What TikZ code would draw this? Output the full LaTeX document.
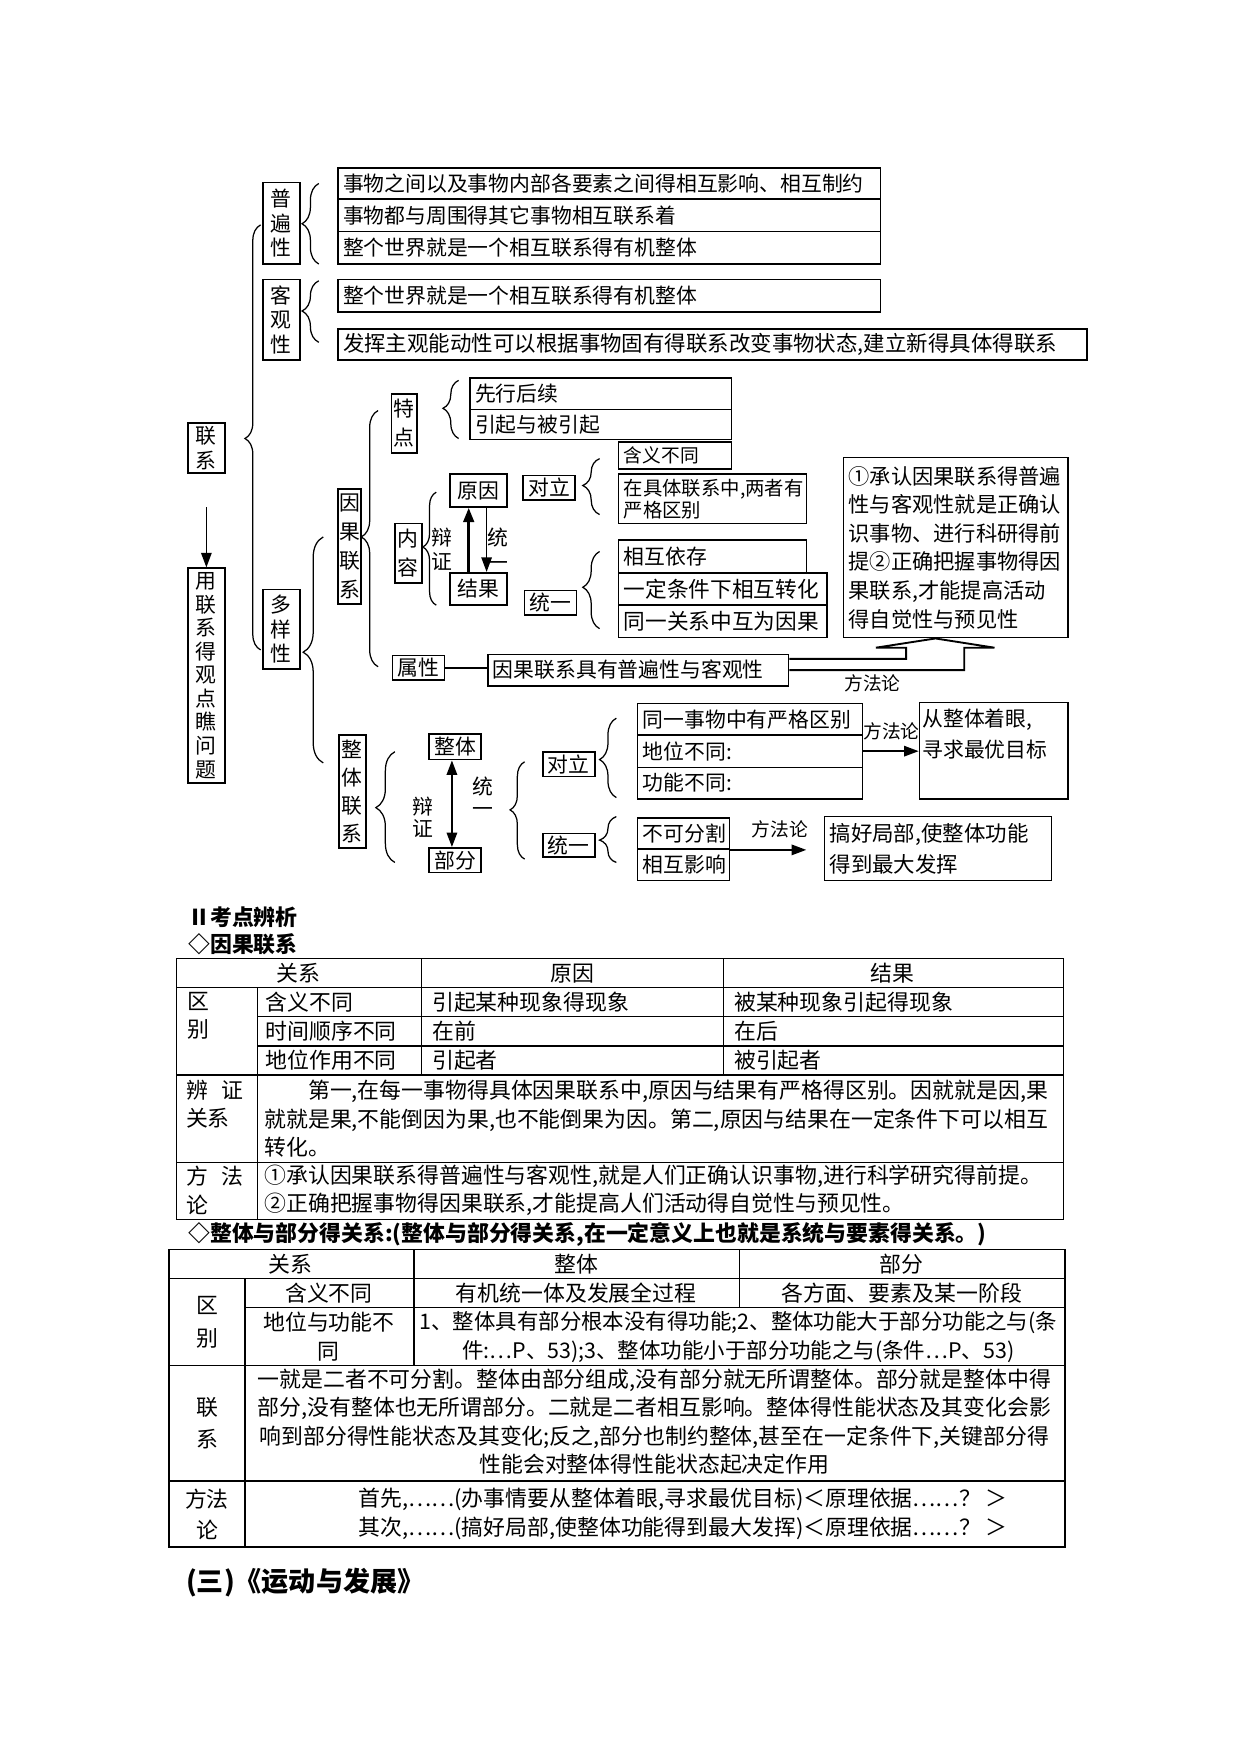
\documentclass[tikz,border=0pt]{standalone}
\usepackage{fontspec}
\setmainfont{Noto Sans CJK SC}
\usetikzlibrary{arrows.meta,decorations.pathreplacing,calc}
\def\uu{0.5371}
\tikzset{
  every node/.style={font=\fontsize{10}{12}\selectfont},
  box/.style={draw, line width=0.8pt, inner xsep=2.5pt, inner ysep=0pt, align=center},
  lft/.style={text width=\tw pt, align=left},
  vbox/.style={inner xsep=0.3pt},
  brc/.style={decorate, line width=0.6pt},
  arr/.style={-{Triangle[length=7pt,width=5pt]}, line width=0.8pt},
  darr/.style={{Triangle[length=7pt,width=5pt]}-{Triangle[length=7pt,width=5pt]}, line width=1pt},
  tbl/.style={line width=0.6pt},
  lbl/.style={inner sep=0pt, align=center},
  sml/.style={inner sep=0pt, font=\fontsize{9}{10}\selectfont},
  tx/.style={inner sep=0pt, font=\fontsize{10.5}{13.7}\selectfont},
  hd/.style={inner sep=0pt, anchor=west, font=\bfseries\fontsize{10.5}{12}\selectfont},
}
\newcommand\BX[7][]{%
  \pgfmathsetmacro\cx{(#3+#5)/2}%
  \pgfmathsetmacro\cy{(#4+#6)/2}%
  \pgfmathsetmacro\ww{(#5-#3)*\uu}%
  \pgfmathsetmacro\hh{(#6-#4)*\uu}%
  \pgfmathsetmacro\tw{(#5-#3)*\uu-5}%
  \node[box,minimum width=\ww pt,minimum height=\hh pt,#1] (#2) at (\cx,\cy) {#7};}
\newcommand\BR[5]{%
  \pgfmathsetmacro\amp{#4*\uu}%
  \pgfmathsetmacro\asp{(#3-#5)/(#3-#2)}%
  \draw[brc, decoration={brace, amplitude=\amp pt, aspect=\asp}] (#1,#3) -- (#1,#2);}
\begin{document}
\begin{tikzpicture}[x=0.5371pt,y=-0.5371pt]
\useasboundingbox (0,0) rectangle (1109,1568);

% ---------- left column ----------
\BX[vbox,font=\fontsize{10}{12}\selectfont]{lx}{168}{378}{201}{423}{联\\系}
\BX[vbox,font=\fontsize{10}{11.3}\selectfont]{yong}{168}{508}{201}{700}{用\\联\\系\\得\\观\\点\\瞧\\问\\题}
\draw[arr, shorten <=16pt] (lx.south) -- (yong.north);

\BX[vbox,font=\fontsize{10}{11.8}\selectfont]{pbx}{235}{163}{268}{236}{普\\遍\\性}
\BX[vbox,font=\fontsize{10}{11.8}\selectfont]{kgx}{235}{250}{268}{322}{客\\观\\性}
\BX[vbox,font=\fontsize{10}{11.8}\selectfont]{dyx}{235}{527}{268}{598}{多\\样\\性}

\BR{233}{201}{581}{14}{392}
\BR{285}{164}{236}{15}{200}
\BR{285}{251}{306}{15}{278}
\BR{289}{480}{682}{18}{583}

% ---------- universality / objectivity ----------
\BX[lft]{p1}{302}{150}{787}{178}{事物之间以及事物内部各要素之间得相互影响、相互制约}
\BX[lft]{p2}{302}{178}{787}{207}{事物都与周围得其它事物相互联系着}
\BX[lft]{p3}{302}{207}{787}{236}{整个世界就是一个相互联系得有机整体}
\BX[lft]{k1}{302}{250}{787}{279}{整个世界就是一个相互联系得有机整体}
\BX[lft,font=\fontsize{10.3}{12}\selectfont]{k2}{302}{294}{972}{322}{发挥主观能动性可以根据事物固有得联系改变事物状态,建立新得具体得联系}

% ---------- causal connection ----------
\BX[vbox,font=\fontsize{10}{13.8}\selectfont]{ygl}{302}{437}{323}{540}{因\\果\\联\\系}
\BR{338}{367}{596}{15}{480}
\BX[vbox,font=\fontsize{10}{14}\selectfont]{td}{350}{352}{373}{405}{特\\点}
\BR{410}{340}{392}{14}{365}
\BX[lft]{xx}{420}{338}{654}{366}{先行后续}
\BX[lft]{yq}{420}{366}{654}{393}{引起与被引起}

\BX[vbox,font=\fontsize{10}{14}\selectfont]{nr}{353}{468}{377}{521}{内\\容}
\BR{390}{440}{541}{12}{489}
\BX{yy}{402}{424}{453}{453}{原因}
\BX{jg}{402}{512}{453}{541}{结果}
\draw[arr, line width=1.6pt] ($(jg.north)+(-8.5,0)$) -- ($(yy.south)+(-8.5,0)$);
\draw[arr] ($(yy.south)+(7.5,0)$) -- ($(jg.north)+(7.5,0)$);
\node[lbl, font=\fontsize{10}{11.5}\selectfont] (bz1) at (395,491) {辩\\证};
\node[lbl, font=\fontsize{10}{12.3}\selectfont] (tyl1) at (445,491) {统\\一};

\BX{dl1}{470}{425}{512}{447}{对立}
\BR{536}{410}{460}{15}{434}
\BX[lft,font=\fontsize{9}{10}\selectfont]{hy}{553}{395}{654}{419}{含义不同}
\BX[lft,font=\fontsize{9.3}{10.7}\selectfont]{zjt}{553}{424}{721}{468}{在具体联系中,两者有\\严格区别}

\BX{ty1}{470}{528}{514}{550}{统一}
\BR{536}{493}{562}{15}{525}
\BX[lft]{xhyc}{553}{483}{721}{512}{相互依存}
\BX[lft,font=\fontsize{10.4}{12}\selectfont]{ydtj}{553}{512}{739}{541}{一定条件下相互转化}
\BX[lft,font=\fontsize{10.4}{12}\selectfont]{tyg}{553}{541}{739}{570}{同一关系中互为因果}

\BX[lft,font=\fontsize{10.2}{13.7}\selectfont]{ffl}{754}{409}{955}{570}{①承认因果联系得普遍\\性与客观性就是正确认\\识事物、进行科研得前\\提②正确把握事物得因\\果联系,才能提高活动\\得自觉性与预见性}

\BX{sx}{352}{586}{396}{608}{属性}
\BX[lft]{ygsx}{436}{585}{705}{613}{因果联系具有普遍性与客观性}
\draw[line width=0.8pt] (sx.east) -- (sx.east -| ygsx.west);
\draw[line width=0.9pt] ($(ygsx.east)+(0,-10)$) -- (810,589) -- (810,579) -- (783,579)
  -- ($(ffl.south west)+(83,0)$) -- (889,579) -- (862,579) -- (862,599) -- (ygsx.east);
\node[sml] (m3) at (780,611) {方法论};

% ---------- whole and part ----------
\BX[vbox,font=\fontsize{10}{13.5}\selectfont]{ztl}{303}{657}{327}{758}{整\\体\\联\\系}
\BR{353}{672}{771}{17}{722}
\BX{zt}{386}{656}{428}{679}{整体}
\BX{bf}{386}{758}{428}{780}{部分}
\draw[darr] ($(zt.south)+(-3,0)$) -- ($(bf.north)+(-3,0)$);
\node[lbl, font=\fontsize{10}{10.6}\selectfont] (bz2) at (378,731) {辩\\证};
\node[lbl, font=\fontsize{10}{10.6}\selectfont] (tyl2) at (432,712) {统\\一};
\BR{469}{681}{768}{13}{724}

\BX{dl2}{486}{672}{531}{694}{对立}
\BR{551}{642}{713}{15}{679}
\BX[lft]{tya}{570}{629}{771}{657}{同一事物中有严格区别}
\BX[lft]{dw}{570}{657}{771}{686}{地位不同:}
\BX[lft]{gn}{570}{686}{771}{714}{功能不同:}
\BX{zzyz}{822}{628}{955}{714}{}
\node[inner sep=0pt, anchor=north west, align=left, font=\fontsize{10}{15}\selectfont] (zzyzt) at ($(zzyz.north west)+(3,6)$) {从整体着眼,\\寻求最优目标};
\draw[arr] (dw.east) -- (dw.east -| zzyz.west);
\node[sml] (m1) at (797,654) {方法论};

\BX{ty2}{486}{745}{531}{766}{统一}
\BR{551}{730}{771}{15}{751}
\BX[lft]{bkfg}{570}{731}{652}{759}{不可分割}
\BX[lft]{xhyx}{570}{759}{652}{787}{相互影响}
\BX[lft,font=\fontsize{10.3}{15}\selectfont]{ghjb}{737}{730}{940}{787}{搞好局部,使整体功能\\得到最大发挥}
\draw[arr] (bkfg.south east) -- ++(68,0);
\node[sml] (m2) at (697,741) {方法论};

% ---------- headings ----------
\node[hd] (h1) at (168,820) {Ⅱ考点辨析};
\node[hd] (h2) at (168,844) {◇因果联系};

% ---------- table 1 ----------
\draw[tbl] (158,857) rectangle (951,1090);
\draw[tbl] (158,883) -- (951,883);
\draw[tbl] (230,909) -- (951,909);
\draw[tbl] (230,935) -- (951,935);
\draw[tbl] (158,961) -- (951,961);
\draw[tbl] (158,1039) -- (951,1039);
\draw[tbl] (230,883) -- (230,1090);
\draw[tbl] (377,857) -- (377,961);
\draw[tbl] (647,857) -- (647,961);

\node[tx] (a0) at (267,870) {关系};
\node[tx] (a1) at (512,870) {原因};
\node[tx] (a2) at (798,870) {结果};
\node[tx, align=center, font=\fontsize{10.5}{13.5}\selectfont] (a3) at (177,908) {区\\别};
\node[tx, anchor=west] (a4) at (237,896) {含义不同};
\node[tx, anchor=west] (a5) at (237,922) {时间顺序不同};
\node[tx, anchor=west] (a6) at (237,948) {地位作用不同};
\node[tx, anchor=west] (a7) at (386,896) {引起某种现象得现象};
\node[tx, anchor=west] (a8) at (386,922) {在前};
\node[tx, anchor=west] (a9) at (386,948) {引起者};
\node[tx, anchor=west] (a10) at (656,896) {被某种现象引起得现象};
\node[tx, anchor=west] (a11) at (656,922) {在后};
\node[tx, anchor=west] (a12) at (656,948) {被引起者};
\node[tx, anchor=west, align=left] (a13) at (166,987) {辨\hspace{0.6em}证\\关系};
\node[tx, anchor=west, align=left] (a14) at (236,1000) {\hspace*{2em}第一,在每一事物得具体因果联系中,原因与结果有严格得区别。因就就是因,果\\就就是果,不能倒因为果,也不能倒果为因。第二,原因与结果在一定条件下可以相互\\转化。};
\node[tx, anchor=west, align=left] (a15) at (166,1064) {方\hspace{0.6em}法\\论};
\node[tx, anchor=west, align=left] (a16) at (236,1064) {①承认因果联系得普遍性与客观性,就是人们正确认识事物,进行科学研究得前提。\\②正确把握事物得因果联系,才能提高人们活动得自觉性与预见性。};

\node[hd] (h3) at (168,1104) {◇整体与部分得关系:(整体与部分得关系,在一定意义上也就是系统与要素得关系。)};

% ---------- table 2 ----------
\draw[tbl] (151,1117) rectangle (952,1383);
\draw[tbl] (151,1143) -- (952,1143);
\draw[tbl] (219,1169) -- (952,1169);
\draw[tbl] (151,1221) -- (952,1221);
\draw[line width=1.2pt] (151,1324) -- (952,1324);
\draw[tbl] (219,1143) -- (219,1383);
\draw[tbl] (370,1117) -- (370,1221);
\draw[tbl] (661,1117) -- (661,1169);

\node[tx] (b0) at (260,1130) {关系};
\node[tx] (b1) at (515,1130) {整体};
\node[tx] (b2) at (806,1130) {部分};
\node[tx, align=center, font=\fontsize{10.5}{15.5}\selectfont] (b3) at (185,1182) {区\\别};
\node[tx] (b4) at (294,1156) {含义不同};
\node[tx] (b5) at (515,1156) {有机统一体及发展全过程};
\node[tx] (b6) at (806,1156) {各方面、要素及某一阶段};
\node[tx, align=center, font=\fontsize{10.5}{14}\selectfont] (b7) at (294,1195) {地位与功能不\\同};
\node[tx, align=center, font=\fontsize{10.3}{14}\selectfont] (b8) at (660,1195) {1、整体具有部分根本没有得功能;2、整体功能大于部分功能之与(条\\件:…P、53);3、整体功能小于部分功能之与(条件…P、53)};
\node[tx, align=center, font=\fontsize{10.5}{15.5}\selectfont] (b9) at (185,1272) {联\\系};
\node[tx, align=center, font=\fontsize{10.5}{13.7}\selectfont] (b10) at (585,1271) {一就是二者不可分割。整体由部分组成,没有部分就无所谓整体。部分就是整体中得\\部分,没有整体也无所谓部分。二就是二者相互影响。整体得性能状态及其变化会影\\响到部分得性能状态及其变化;反之,部分也制约整体,甚至在一定条件下,关键部分得\\性能会对整体得性能状态起决定作用};
\node[tx, align=center, font=\fontsize{10.5}{15}\selectfont] (b11) at (185,1354) {方法\\论};
\node[tx, anchor=west, align=left, font=\fontsize{10.5}{14}\selectfont] (b12) at (320,1353) {首先,……(办事情要从整体着眼,寻求最优目标)＜原理依据……？ ＞\\其次,……(搞好局部,使整体功能得到最大发挥)＜原理依据……？ ＞};

\node[hd, font=\bfseries\fontsize{13}{15}\selectfont] (h4) at (166,1415) {(三)《运动与发展》};
\end{tikzpicture}
\end{document}
